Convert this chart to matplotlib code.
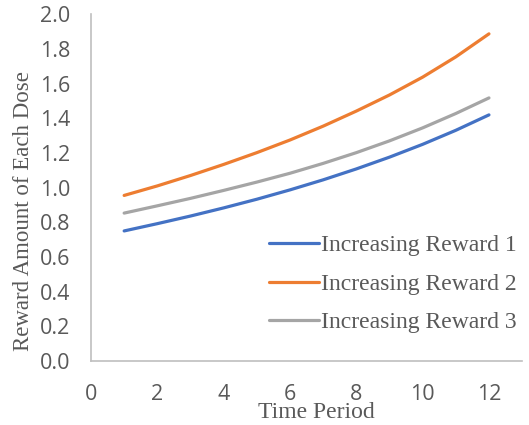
import matplotlib
matplotlib.use("Agg")
import matplotlib.pyplot as plt

# data
periods = [1, 2, 3, 4, 5, 6, 7, 8, 9, 10, 11, 12]
reward_1 = [0.750, 0.792, 0.836, 0.883, 0.933, 0.987, 1.045, 1.108, 1.176, 1.250, 1.331, 1.420]
reward_2 = [0.955, 1.010, 1.070, 1.134, 1.202, 1.275, 1.355, 1.442, 1.535, 1.638, 1.755, 1.888]
reward_3 = [0.853, 0.895, 0.938, 0.984, 1.032, 1.083, 1.140, 1.202, 1.270, 1.345, 1.428, 1.518]
labels = ["Increasing Reward 1", "Increasing Reward 2", "Increasing Reward 3"]
colors = ["#4472C4", "#ED7D31", "#A5A5A5"]
xticks = [0, 2, 4, 6, 8, 10, 12]
yticks = [0.0, 0.2, 0.4, 0.6, 0.8, 1.0, 1.2, 1.4, 1.6, 1.8, 2.0]

fig = plt.figure(figsize=(5.29, 4.25), dpi=100)
ax = fig.add_axes([0.172, 0.151, 0.815, 0.815])

for ys, lab, c in zip([reward_1, reward_2, reward_3], labels, colors):
    ax.plot(periods, ys, color=c, lw=2.3, label=lab,
            solid_capstyle="round", solid_joinstyle="round")

ax.set_xlim(0, 13)
ax.set_ylim(0, 2.0)
ax.set_xticks(xticks)
ax.set_yticks(yticks)
ax.set_yticklabels([f"{v:.1f}" for v in yticks])
ax.tick_params(length=0, labelsize=15.5, labelcolor="#595959")
ax.tick_params(axis="x", pad=17)
ax.tick_params(axis="y", pad=15)
for lbl in ax.get_xticklabels() + ax.get_yticklabels():
    lbl.set_fontfamily("Open Sans")

for s in ["top", "right"]:
    ax.spines[s].set_visible(False)
for s in ["left", "bottom"]:
    ax.spines[s].set_color("#BFBFBF")
    ax.spines[s].set_linewidth(1.2)

serif = "Liberation Serif"
ax.set_xlabel("Time Period", fontfamily=serif, fontsize=17, color="#595959")
ax.xaxis.set_label_coords(0.522, -0.118)
ax.set_ylabel("Reward Amount of Each Dose", fontfamily=serif, fontsize=16.5, color="#595959")
ax.yaxis.set_label_coords(-0.133, 0.432)

leg = ax.legend(loc="lower right", bbox_to_anchor=(1.01, 0.052), frameon=False,
                prop={"family": serif, "size": 17}, handlelength=2.1,
                handletextpad=0.1, labelspacing=0.72, borderaxespad=0)
for t in leg.get_texts():
    t.set_color("#595959")

fig.savefig("out.png", dpi=100)
